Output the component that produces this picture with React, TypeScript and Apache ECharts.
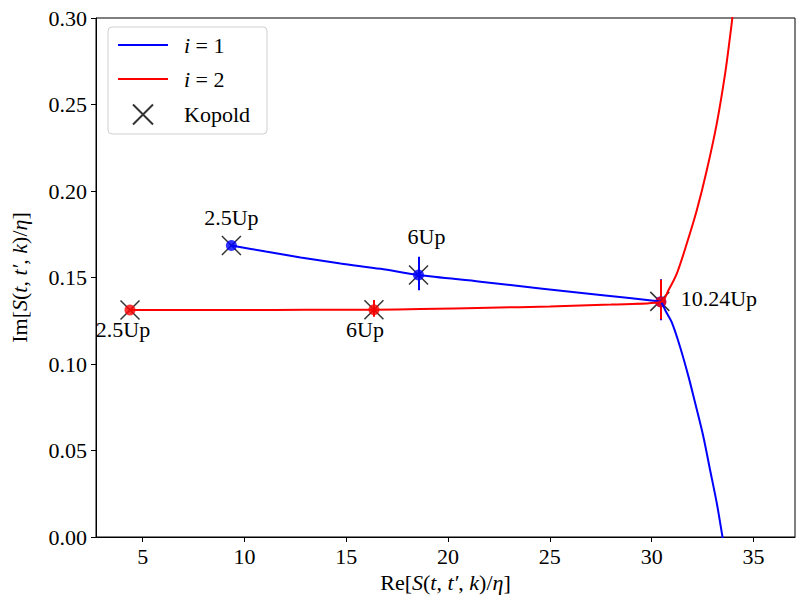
import React, { useEffect, useRef } from "react";
import * as echarts from "echarts";

// ---- data ----
const blueCurveX = [9.36, 11.05, 12.76, 14.72, 16.69, 18.55, 21.59, 24.53, 27.48, 30.32, 30.45, 30.7, 30.99, 31.4, 31.81, 32.14, 32.54, 32.87, 33.2, 33.48, 33.6];
const blueCurveY = [0.1685, 0.165, 0.1616, 0.1581, 0.155, 0.1514, 0.1476, 0.1437, 0.1399, 0.1363, 0.136, 0.1303, 0.124, 0.1097, 0.0927, 0.0773, 0.058, 0.0387, 0.0195, 0.0, -0.008];

const redCurveX = [4.38, 7, 10, 13, 16.36, 18.65, 22, 25, 28, 30.45, 30.83, 31.24, 31.73, 32.22, 32.71, 33.2, 33.61, 33.85, 33.96, 34.05];
const redCurveY = [0.1312, 0.1312, 0.1312, 0.1313, 0.1314, 0.1318, 0.1325, 0.1333, 0.1344, 0.1358, 0.1428, 0.1524, 0.1698, 0.189, 0.2121, 0.2391, 0.268, 0.2892, 0.2998, 0.308];

const bluePointsX = [9.36, 18.55, 30.45];
const bluePointsY = [0.1685, 0.1514, 0.136];
const bluePointLabels = ["2.5Up", "6Up", ""];

const redPointsX = [4.38, 16.36, 30.45];
const redPointsY = [0.1312, 0.1314, 0.1358];
const redPointLabels = ["2.5Up", "6Up", "10.24Up"];

const kopoldX = [9.36, 18.55, 4.38, 16.36, 30.4];
const kopoldY = [0.1685, 0.1514, 0.1312, 0.1314, 0.1362];

const blueBarX = [18.55, 30.45];
const blueBarLow = [0.1426, 0.1253];
const blueBarHigh = [0.162, 0.149];
const redBarX = [16.36, 30.45];
const redBarLow = [0.1273, 0.1258];
const redBarHigh = [0.137, 0.1487];

const xTickValues = [5, 10, 15, 20, 25, 30, 35];
const seriesNames = ["i = 1", "i = 2", "Kopold"];

// ---- styling (not data) ----
const FONT = "Liberation Serif";
const blueLabelOffsets = [[0, -28], [8, -39], [0, 0]];
const redLabelOffsets = [[-7, 19], [-9, 20], [58, -4]];

export default function App() {
  const ref = useRef<HTMLDivElement>(null);
  useEffect(() => {
    if (!ref.current) return;
    const chart = echarts.init(ref.current, undefined, { renderer: "svg" });
    const zip = (xs: number[], ys: number[]) => xs.map((x, i) => [x, ys[i]]);
    const pointData = (xs: number[], ys: number[], labels: string[], offs: number[][]) =>
      xs.map((x, i) => ({
        value: [x, ys[i]],
        label: { show: labels[i] !== "", formatter: labels[i], offset: offs[i] },
      }));
    const bars = (xs: number[], lo: number[], hi: number[]) =>
      xs.map((x, i) => ({ coords: [[x, lo[i]], [x, hi[i]]] }));
    const italic = { fontFamily: FONT, fontStyle: "italic", fontSize: 22, color: "#000" };
    const pointLabel = {
      position: "inside",
      color: "#000",
      opacity: 1,
      textBorderWidth: 0,
      fontFamily: FONT,
      fontSize: 22,
    };

    chart.setOption({
      animation: false,
      backgroundColor: "#fff",
      textStyle: { fontFamily: FONT },
      grid: { left: 95, right: 1, top: 18, bottom: 69, show: true, borderColor: "#000", borderWidth: 1, backgroundColor: "transparent" },
      legend: {
        data: [
          { name: seriesNames[0], itemStyle: { opacity: 0 } },
          { name: seriesNames[1], itemStyle: { opacity: 0 } },
          { name: seriesNames[2] },
        ],
        orient: "vertical",
        left: 108,
        top: 27,
        padding: [7, 17, 7, 9],
        itemWidth: 50,
        itemHeight: 20,
        itemGap: 12,
        backgroundColor: "#fff",
        borderColor: "#d0d0d0",
        borderWidth: 1,
        borderRadius: 4,
        formatter: (name: string) => (name === "Kopold" ? "Kopold" : "{it|i} = " + name.slice(-1)),
        textStyle: {
          fontFamily: FONT,
          fontSize: 22,
          color: "#000",
          padding: [0, 0, 0, 11],
          rich: { it: { ...italic } },
        },
      },
      xAxis: {
        type: "value",
        min: 2.71,
        max: 37.04,
        name: "Re[{it|S}({it|t}, {it|t′}, {it|k})/{it|η}]",
        nameLocation: "middle",
        nameGap: 30,
        nameTextStyle: { fontFamily: FONT, fontSize: 22, color: "#000", rich: { it: { ...italic } } },
        axisLine: { show: true, lineStyle: { color: "#000", width: 1 } },
        axisTick: { show: true, inside: false, length: 5, customValues: xTickValues, lineStyle: { color: "#000" } },
        axisLabel: { customValues: xTickValues, fontFamily: FONT, fontSize: 22, color: "#000", margin: 8 },
        splitLine: { show: false },
      },
      yAxis: {
        type: "value",
        min: 0,
        max: 0.3,
        interval: 0.05,
        name: "Im[{it|S}({it|t}, {it|t′}, {it|k})/{it|η}]",
        nameLocation: "middle",
        nameGap: 66,
        nameRotate: 90,
        nameTextStyle: { fontFamily: FONT, fontSize: 22, color: "#000", rich: { it: { ...italic } } },
        axisLine: { show: true, lineStyle: { color: "#000", width: 1 } },
        axisTick: { show: true, inside: false, length: 5, lineStyle: { color: "#000" } },
        axisLabel: { fontFamily: FONT, fontSize: 22, color: "#000", margin: 9, formatter: (v: number) => v.toFixed(2) },
        splitLine: { show: false },
      },
      series: [
        {
          name: "i = 1",
          type: "line",
          data: zip(blueCurveX, blueCurveY),
          symbol: "none",
          smooth: 0.3,
          clip: true,
          lineStyle: { color: "#0000ff", width: 2 },
          itemStyle: { color: "#0000ff" },
        },
        {
          name: "i = 2",
          type: "line",
          data: zip(redCurveX, redCurveY),
          symbol: "none",
          smooth: 0.3,
          clip: true,
          lineStyle: { color: "#ff0000", width: 2 },
          itemStyle: { color: "#ff0000" },
        },
        {
          name: "blueBars",
          type: "lines",
          coordinateSystem: "cartesian2d",
          data: bars(blueBarX, blueBarLow, blueBarHigh),
          lineStyle: { color: "#0000ff", width: 2, opacity: 1 },
        },
        {
          name: "redBars",
          type: "lines",
          coordinateSystem: "cartesian2d",
          data: bars(redBarX, redBarLow, redBarHigh),
          lineStyle: { color: "#ff0000", width: 2, opacity: 1 },
        },
        {
          name: "Kopold",
          type: "scatter",
          data: zip(kopoldX, kopoldY),
          symbol: "path://M0,0L10,10M10,0L0,10",
          symbolSize: 19,
          symbolKeepAspect: true,
          itemStyle: { color: "none", borderColor: "#000", borderWidth: 1.5 },
        },
        {
          name: "bluePts",
          type: "scatter",
          data: pointData(bluePointsX, bluePointsY, bluePointLabels, blueLabelOffsets),
          symbol: "circle",
          symbolSize: 11,
          itemStyle: { color: "#0000ff" },
          label: pointLabel,
        },
        {
          name: "redPts",
          type: "scatter",
          data: pointData(redPointsX, redPointsY, redPointLabels, redLabelOffsets),
          symbol: "circle",
          symbolSize: 11,
          itemStyle: { color: "#ff0000" },
          label: pointLabel,
        },
      ],
    });
    return () => chart.dispose();
  }, []);
  return <div ref={ref} style={{ width: 796, height: 606, position: "absolute", left: 0, top: 0 }} />;
}
